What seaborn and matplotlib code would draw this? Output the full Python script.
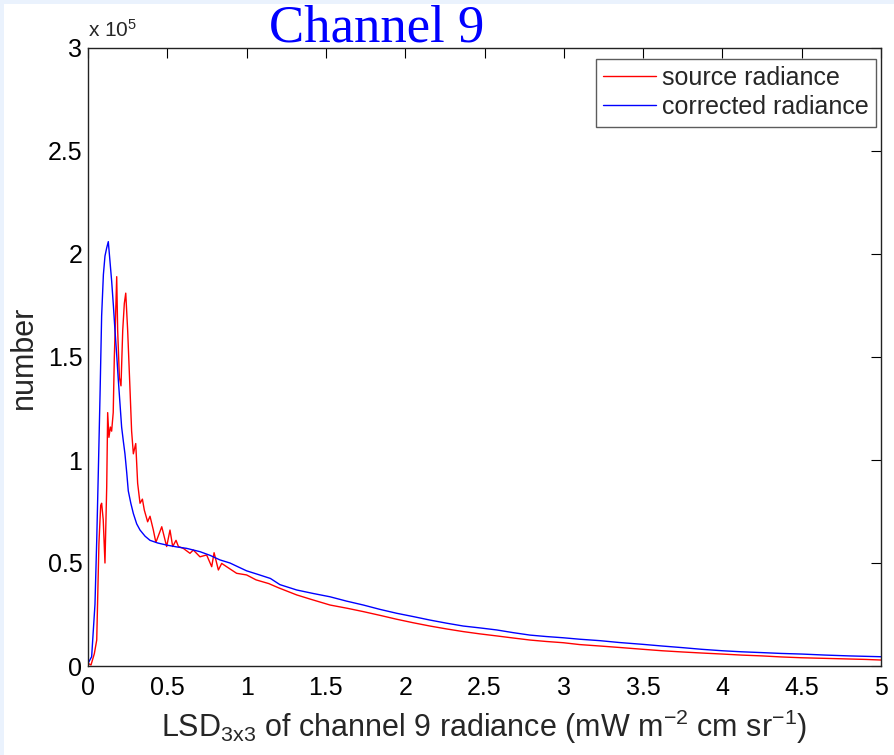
import numpy as np
import pandas as pd
import matplotlib
matplotlib.use("Agg")
import matplotlib.pyplot as plt
import seaborn as sns
from matplotlib.ticker import FuncFormatter
from matplotlib.patches import Rectangle

# ---- data (counts) ----
src_x = [0.000, 0.019, 0.040, 0.055, 0.069, 0.080, 0.086, 0.096, 0.107, 0.118,
         0.124, 0.132, 0.141, 0.149, 0.159, 0.166, 0.172, 0.181, 0.187, 0.198,
         0.208, 0.219, 0.229, 0.238, 0.250, 0.265, 0.275, 0.286, 0.301, 0.313,
         0.328, 0.343, 0.355, 0.376, 0.391, 0.412, 0.427, 0.433, 0.465, 0.496,
         0.517, 0.534, 0.555, 0.570, 0.601, 0.643, 0.664, 0.706, 0.748, 0.780,
         0.795, 0.822, 0.843, 0.874, 0.937, 1.000, 1.060, 1.140, 1.200, 1.316,
         1.400, 1.526, 1.636, 1.736, 1.846, 1.946, 2.050, 2.156, 2.260, 2.366,
         2.470, 2.577, 2.680, 2.787, 2.890, 2.997, 3.100, 3.228, 3.350, 3.500,
         3.620, 3.750, 3.870, 4.000, 4.120, 4.250, 4.370, 4.500, 4.650, 4.800,
         4.900, 5.000]
src_y = [0.013, 0.005, 0.060, 0.126, 0.596, 0.780, 0.790, 0.710, 0.500, 0.870,
         1.230, 1.110, 1.160, 1.140, 1.230, 1.500, 1.650, 1.890, 1.630, 1.400,
         1.360, 1.630, 1.760, 1.810, 1.630, 1.340, 1.140, 1.030, 1.080, 0.887,
         0.790, 0.810, 0.757, 0.700, 0.727, 0.660, 0.603, 0.610, 0.676, 0.580,
         0.660, 0.580, 0.610, 0.580, 0.571, 0.547, 0.563, 0.530, 0.539, 0.482,
         0.550, 0.466, 0.498, 0.482, 0.450, 0.442, 0.418, 0.400, 0.380, 0.345,
         0.325, 0.296, 0.280, 0.264, 0.245, 0.227, 0.210, 0.194, 0.180, 0.167,
         0.156, 0.146, 0.136, 0.126, 0.119, 0.113, 0.104, 0.097, 0.090, 0.081,
         0.074, 0.068, 0.063, 0.058, 0.053, 0.049, 0.044, 0.040, 0.037, 0.034,
         0.032, 0.029]

cor_x = [0.000, 0.023, 0.044, 0.055, 0.065, 0.076, 0.086, 0.097, 0.107, 0.118,
         0.128, 0.138, 0.149, 0.160, 0.170, 0.181, 0.191, 0.202, 0.212, 0.223,
         0.233, 0.244, 0.254, 0.270, 0.286, 0.307, 0.328, 0.360, 0.391, 0.440,
         0.496, 0.560, 0.622, 0.706, 0.770, 0.832, 0.895, 0.950, 1.000, 1.070,
         1.150, 1.210, 1.316, 1.420, 1.526, 1.630, 1.736, 1.840, 1.946, 2.050,
         2.156, 2.260, 2.366, 2.470, 2.577, 2.680, 2.787, 2.890, 2.997, 3.100,
         3.228, 3.350, 3.500, 3.620, 3.750, 3.870, 4.000, 4.120, 4.250, 4.370,
         4.500, 4.650, 4.800, 4.900, 5.000]
cor_y = [0.013, 0.045, 0.300, 0.610, 0.940, 1.320, 1.700, 1.900, 1.990, 2.030,
         2.060, 1.970, 1.870, 1.750, 1.630, 1.510, 1.390, 1.270, 1.160, 1.090,
         1.030, 0.940, 0.850, 0.790, 0.740, 0.690, 0.660, 0.630, 0.610, 0.597,
         0.587, 0.578, 0.571, 0.555, 0.537, 0.515, 0.500, 0.480, 0.462, 0.445,
         0.425, 0.395, 0.369, 0.352, 0.336, 0.315, 0.296, 0.275, 0.256, 0.240,
         0.223, 0.208, 0.194, 0.185, 0.175, 0.162, 0.150, 0.143, 0.137, 0.130,
         0.123, 0.114, 0.105, 0.097, 0.089, 0.081, 0.074, 0.069, 0.065, 0.061,
         0.058, 0.053, 0.049, 0.047, 0.045]

SCALE = 1e5
series_names = ["source radiance", "corrected radiance"]
x_ticks = [0, 0.5, 1, 1.5, 2, 2.5, 3, 3.5, 4, 4.5, 5]
y_ticks = [0, 0.5, 1, 1.5, 2, 2.5, 3]

df = pd.concat([
    pd.DataFrame({"x": src_x, "y": np.array(src_y) * SCALE, "series": series_names[0]}),
    pd.DataFrame({"x": cor_x, "y": np.array(cor_y) * SCALE, "series": series_names[1]}),
], ignore_index=True)

sns.set_style("white")
plt.rcParams["font.family"] = ["Liberation Sans", "DejaVu Sans"]
plt.rcParams["mathtext.fontset"] = "custom"
plt.rcParams["mathtext.rm"] = "Liberation Sans"
plt.rcParams["mathtext.it"] = "Liberation Sans"

fig = plt.figure(figsize=(8.94, 7.55), dpi=100)
fig.patch.set_facecolor("#eaf2fd")
fig.patches.append(Rectangle((4 / 894, 0), 1, 1 - 4 / 755, transform=fig.transFigure,
                             facecolor="white", edgecolor="none", zorder=-10))
ax = fig.add_axes([88 / 894, 1 - 666 / 755, (881 - 88) / 894, (666 - 48) / 755])

sns.lineplot(data=df, x="x", y="y", hue="series", hue_order=series_names,
             palette={series_names[0]: "#ff0000", series_names[1]: "#0000ff"},
             linewidth=1.0, ax=ax, sort=False, estimator=None)

ax.set_xlim(0, 5)
ax.set_ylim(0, 3 * SCALE)
ax.set_xticks(x_ticks)
ax.set_yticks([v * SCALE for v in y_ticks])
ax.xaxis.set_major_formatter(FuncFormatter(lambda v, p: f"{v:g}"))
ax.yaxis.set_major_formatter(FuncFormatter(lambda v, p: f"{v / SCALE:g}"))
ax.tick_params(direction="in", length=7, width=0.8, top=True, right=True,
               labelsize=18, colors="black")
ax.tick_params(axis="x", pad=7)
ax.tick_params(axis="y", pad=4)
for s in ax.spines.values():
    s.set_color("#222222")
    s.set_linewidth(1.0)

ax.set_xlabel("LSD$_{\\mathrm{3x3}}$ of channel 9 radiance (mW m$^{-2}$ cm sr$^{-1}$)",
              fontsize=22, labelpad=6)
ax.set_ylabel("number", fontsize=22, labelpad=6)

ax.text(0.0, 1.012, "x 10$^{5}$", transform=ax.transAxes, fontsize=15,
        ha="left", va="bottom")
fig.text(377 / 894, 1 - 28 / 755, "Channel 9", color="#0000ff", fontsize=38,
         family="Liberation Serif", ha="center", va="center")

leg = ax.legend(loc="upper right", bbox_to_anchor=(0.994, 0.983), borderaxespad=0,
                frameon=True, fancybox=False, fontsize=18, handlelength=2.1,
                handletextpad=0.25, borderpad=0.3, labelspacing=0.2, title=None)
leg.get_frame().set_edgecolor("#333333")
leg.get_frame().set_linewidth(1.0)
for line in leg.get_lines():
    line.set_linewidth(1.0)

fig.savefig("out.png", dpi=100, facecolor=fig.get_facecolor())
